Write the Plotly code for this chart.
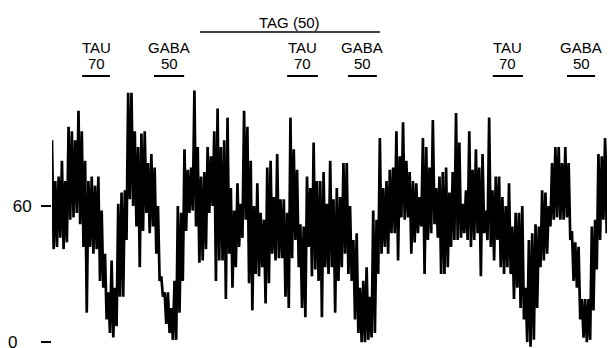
import plotly.graph_objects as go

# Upper (peak) and lower (trough) excursions of the recorded trace, per time bin (units of y axis)
peaks = [89, 71, 73, 80, 71, 95, 93, 89, 102, 93, 80, 71, 73, 69, 73, 58, 39, 22, 36, 24,
         61, 66, 67, 110, 110, 93, 86, 92, 93, 79, 83, 77, 60, 29, 22, 22, 15, 27, 60, 57,
         85, 76, 77, 111, 86, 73, 75, 86, 82, 93, 103, 86, 89, 99, 68, 58, 70, 61, 102, 95,
         80, 60, 70, 57, 54, 77, 80, 64, 83, 63, 63, 57, 99, 85, 76, 52, 51, 73, 68, 88,
         71, 71, 75, 61, 80, 63, 68, 64, 79, 79, 60, 45, 48, 24, 27, 33, 20, 58, 54, 90,
         68, 71, 76, 77, 93, 82, 97, 80, 75, 71, 70, 64, 90, 86, 77, 98, 68, 73, 75, 77,
         66, 75, 101, 88, 61, 67, 93, 76, 85, 77, 83, 58, 99, 67, 73, 73, 64, 60, 70, 51,
         57, 57, 60, 24, 45, 48, 52, 51, 67, 66, 60, 79, 86, 86, 79, 86, 79, 49, 44, 42,
         19, 19, 19, 51, 54, 83, 82, 90, 89, 80]
troughs = [41, 42, 46, 41, 44, 54, 55, 57, 52, 42, 13, 42, 39, 41, 27, 24, 10, 4, 2, 7,
           20, 20, 45, 63, 60, 51, 33, 49, 57, 48, 51, 39, 27, 20, 8, 4, 1, 1, 13, 27,
           49, 57, 58, 51, 35, 36, 41, 57, 60, 27, 36, 36, 19, 39, 24, 33, 42, 46, 54, 26,
           14, 30, 29, 33, 17, 26, 39, 36, 37, 37, 20, 15, 37, 45, 33, 15, 11, 42, 29, 32,
           27, 11, 33, 30, 33, 13, 27, 33, 39, 30, 27, 10, 4, 0, 0, 1, 2, 4, 30, 39,
           42, 39, 48, 48, 36, 55, 54, 55, 39, 44, 48, 51, 30, 45, 48, 52, 46, 30, 30, 33,
           42, 45, 45, 46, 48, 45, 42, 45, 48, 29, 48, 45, 42, 36, 45, 33, 30, 33, 30, 19,
           24, 15, 10, 0, -2, 1, 15, 33, 36, 39, 51, 54, 55, 54, 54, 55, 45, 27, 24, 10,
           2, 0, 1, 14, 32, 45, 54, 48, 45, 39]

# Drug applications: (name, dose, start, end) in time bins
applications = [("TAU", "70", 9.1, 17.5), ("GABA", "50", 30.8, 39.9),
                ("TAU", "70", 71.0, 80.3), ("GABA", "50", 89.4, 98.1),
                ("TAU", "70", 133.1, 142.2), ("GABA", "50", 155.5, 164.0)]
tag_label = "TAG (50)"
tag_period = (44.7, 99.0)

tick_vals = [0, 60]
tick_text = ["0\u00a0\u00a0\u00a0", "60"]

xs, ys = [], []
for i, (p, t) in enumerate(zip(peaks, troughs)):
    xs += [i, i + 0.5]
    ys += [p, t]

fig = go.Figure()
fig.add_trace(go.Scatter(x=xs, y=ys, mode="lines",
                         line=dict(color="black", width=2.7), hoverinfo="skip"))

font = dict(family="Liberation Sans, Arial, sans-serif", size=15, color="black")
shapes = []
annotations = []
for name, dose, s, e in applications:
    c = (s + e) / 2
    annotations.append(dict(x=c, y=1.121, xref="x", yref="paper", text=name,
                            showarrow=False, font=font, xanchor="center", yanchor="middle"))
    annotations.append(dict(x=c, y=1.063, xref="x", yref="paper", text=dose,
                            showarrow=False, font=font, xanchor="center", yanchor="middle"))
    shapes.append(dict(type="line", xref="x", yref="paper", x0=s, x1=e, y0=1.015, y1=1.015,
                       line=dict(color="black", width=2)))
shapes.append(dict(type="line", xref="x", yref="paper", x0=tag_period[0], x1=tag_period[1],
                   y0=1.179, y1=1.179, line=dict(color="black", width=1.5)))
annotations.append(dict(x=sum(tag_period) / 2, y=1.216, xref="x", yref="paper", text=tag_label,
                        showarrow=False, font=font, xanchor="center", yanchor="middle"))

n = len(peaks)
fig.update_layout(
    width=607, height=340,
    margin=dict(l=44, r=0, t=72, b=0, autoexpand=False),
    paper_bgcolor="white", plot_bgcolor="white",
    showlegend=False,
    xaxis=dict(range=[0, n], visible=False, fixedrange=True, automargin=False),
    yaxis=dict(range=[-2.6, 115.6], tickvals=tick_vals, ticktext=tick_text,
               ticks="outside", ticklen=10, tickwidth=2, tickcolor="black",
               showgrid=False, zeroline=False, showline=False, automargin=False,
               ticklabeloverflow="allow", ticklabelstandoff=6,
               tickfont=dict(family="Liberation Sans, Arial, sans-serif", size=17, color="black")),
    shapes=shapes, annotations=annotations,
)
fig.write_html("out.html")
